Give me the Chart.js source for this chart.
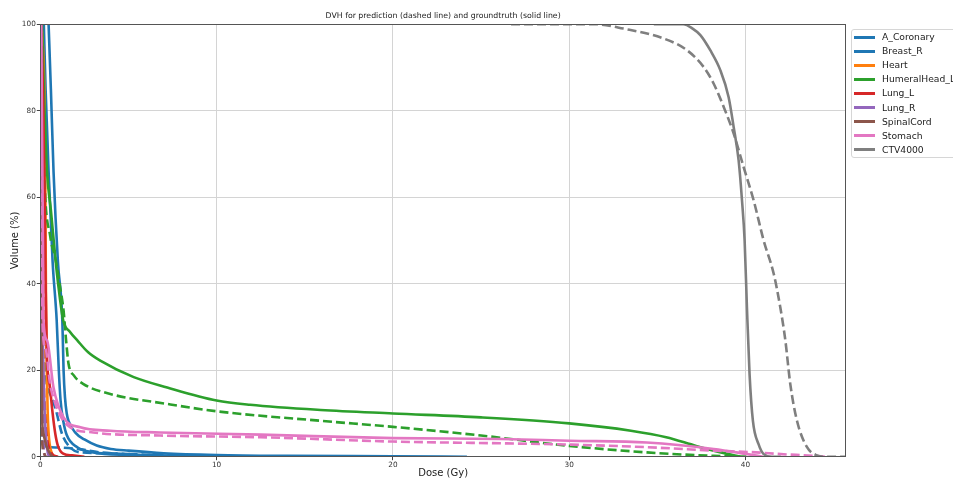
<!DOCTYPE html>
<html>
<head>
<meta charset="utf-8">
<script src="https://cdn.jsdelivr.net/npm/chart.js@4/dist/chart.umd.min.js"></script>
<style>
  html, body { margin: 0; padding: 0; background: #fff; overflow: hidden; }
  #wrap { position: relative; width: 953px; height: 480px; overflow: hidden; }
  #legend { position: absolute; left: 851px; top: 29px; width: 140px; height: 127px;
            border: 1px solid #d6d6d6; border-radius: 3px; background: #fff;
            font-family: "DejaVu Sans", sans-serif; font-size: 9.2px; color: #222; }
  .item { position: absolute; left: 0; height: 14px; line-height: 14px; white-space: nowrap; }
  .swatch { position: absolute; left: 2px; top: 5.5px; width: 21px; height: 0; border-top: 3px solid; }
  .lbl { position: absolute; left: 30px; top: 0; }
</style>
</head>
<body>
<div id="wrap">
  <canvas id="c" width="953" height="480"></canvas>
  <div id="legend"></div>
</div>
<script>
// ---- Data (dose in Gy, volume in %) ----
const structures = ['A_Coronary', 'Breast_R', 'Heart', 'HumeralHead_L', 'Lung_L', 'Lung_R', 'SpinalCord', 'Stomach', 'CTV4000'];
const colors = ['#1f77b4', '#1f77b4', '#ff7f0e', '#2ca02c', '#d62728', '#9467bd', '#8c564b', '#e377c2', '#7f7f7f'];

const xTicks = [0, 10, 20, 30, 40];
const yTicks = [0, 20, 40, 60, 80, 100];

const aCoronaryGtDose   = [0.2, 0.3, 0.47, 0.7, 0.93, 1.05, 1.15, 1.3, 1.5, 2.1, 3.0, 5.0, 8.0, 10.0];
const aCoronaryGtVol    = [100, 85, 66, 45, 31.5, 20, 13, 8.3, 5, 2.2, 1.0, 0.4, 0.1, 0];
const aCoronaryPredDose = [0.02, 0.04, 0.06, 0.08, 0.55, 2.1, 3.4, 5.0, 7.2, 10.0, 12.0];
const aCoronaryPredVol  = [100, 50, 10, 3.4, 2.2, 1.8, 1.0, 0.6, 0.4, 0.2, 0];

const breastRGtDose   = [0.47, 0.6, 0.75, 1.0, 1.25, 1.32, 1.4, 1.5, 1.6, 2.0, 2.5, 3.2, 4.0, 5.0, 7.0, 10.0, 14.0, 20.0, 24.2];
const breastRGtVol    = [100, 85, 66, 45, 31.5, 20, 13.7, 10, 8.3, 5.5, 4.0, 2.6, 1.8, 1.4, 0.8, 0.4, 0.2, 0.1, 0];
const breastRPredDose = [0.08, 0.12, 0.18, 0.22, 0.27, 0.3, 0.5, 0.85, 1.23, 1.68, 2.27, 3.97, 5.8, 8.0, 11.0];
const breastRPredVol  = [100, 80, 60, 45, 31.5, 20.6, 15, 11.3, 5.3, 2.2, 1.0, 0.8, 0.4, 0.2, 0];

const heartGtDose   = [0.05, 0.15, 0.25, 0.28, 0.33, 0.37, 0.42, 0.5, 0.6, 0.75];
const heartGtVol    = [100, 95, 80, 66, 31.5, 20, 10, 4, 1.5, 0];
const heartPredDose = [0.03, 0.1, 0.15, 0.18, 0.2, 0.3, 0.35, 0.45, 0.55];
const heartPredVol  = [100, 80, 60, 40, 20, 10, 5, 1, 0];

const humeralGtDose   = [0.1, 0.2, 0.38, 0.6, 0.9, 1.1, 1.3, 1.7, 2.1, 2.7, 3.4, 5.3, 7.2, 10, 11.9, 15.9, 20, 25, 30, 33.5, 35.5, 37.2, 38.6, 39.7];
const humeralGtVol    = [100, 85, 66, 57, 44, 37, 31.5, 28.8, 26.9, 24.2, 22.2, 18.4, 16, 13, 12, 10.8, 10, 9.1, 7.7, 6, 4.5, 2.5, 1, 0];
const humeralPredDose = [0.05, 0.15, 0.22, 0.57, 0.85, 1.13, 1.32, 1.45, 1.6, 1.9, 2.45, 3.97, 7.2, 10, 15.9, 20, 25, 30, 34.4, 38.2, 40.5];
const humeralPredVol  = [100, 80, 66, 50.8, 46, 39, 33.8, 27.5, 21.5, 18.8, 16.8, 14.5, 12.2, 10.5, 8.3, 6.9, 4.9, 2.5, 1.0, 0.2, 0];

const lungLGtDose   = [0.05, 0.15, 0.25, 0.3, 0.37, 0.55, 0.7, 0.85, 1.0, 1.3, 1.8, 2.5];
const lungLGtVol    = [100, 85, 60, 40, 24, 16, 10, 5.3, 2.5, 0.7, 0.3, 0];
const lungLPredDose = [0.02, 0.05, 0.08, 0.1, 0.17, 0.25, 0.35, 0.5, 0.7, 1.0];
const lungLPredVol  = [100, 70, 50, 31.5, 17, 10, 5, 2, 0.5, 0];

const lungRGtDose   = [0.03, 0.08, 0.12, 0.18, 0.25, 0.33, 0.42, 0.5];
const lungRGtVol    = [100, 60, 35, 20, 10, 4, 1, 0];
const lungRPredDose = [0.02, 0.05, 0.09, 0.14, 0.2, 0.28];
const lungRPredVol  = [100, 50, 20, 8, 2, 0];

const spinalGtDose   = [0.02, 0.05, 0.08, 0.1, 0.15, 0.35, 0.55, 0.7];
const spinalGtVol    = [100, 70, 30, 10, 6, 2.5, 0.7, 0];
const spinalPredDose = [0.01, 0.03, 0.05, 0.07, 0.1, 0.2, 0.3];
const spinalPredVol  = [100, 60, 25, 10, 4, 1, 0];

const stomachGtDose   = [0.05, 0.1, 0.15, 0.18, 0.38, 0.75, 1.32, 2.27, 3.97, 6.8, 12.5, 20, 26.1, 30, 34.4, 38.2, 40.1, 41.0];
const stomachGtVol    = [100, 75, 50, 31.5, 26.9, 16, 9.1, 6.8, 6.0, 5.6, 5.1, 4.3, 4.1, 3.7, 3.3, 1.8, 0.6, 0];
const stomachPredDose = [0.03, 0.07, 0.1, 0.12, 0.3, 0.55, 0.85, 1.2, 1.7, 3.0, 6.8, 12.5, 20, 26.1, 30, 34.4, 38.2, 40.6, 42, 43.9, 44.5];
const stomachPredVol  = [100, 70, 50, 31.5, 25, 17, 12.3, 9, 6.8, 5.6, 4.9, 4.5, 3.5, 3.1, 2.8, 2.2, 1.4, 1.0, 0.6, 0.2, 0];

const ctvGtDose   = [34.8, 36.47, 37.0, 37.44, 38.0, 38.57, 39.04, 39.33, 39.61, 39.8, 39.95, 40.08, 40.23, 40.42, 40.74, 41.03, 41.5, 42.0];
const ctvGtVol    = [100, 100, 99.0, 97.5, 94, 89.4, 83.2, 76.2, 68.5, 59.3, 50, 34.6, 19.1, 8.3, 2.9, 0.6, 0, 0];
const ctvPredDose = [26.7, 31.5, 33.07, 35.36, 36.68, 37.63, 38.19, 38.76, 39.33, 39.89, 40.46, 41.03, 41.6, 41.97, 42.26, 42.54, 42.92, 43.49, 44.05, 44.5, 45.7];
const ctvPredVol  = [100, 100, 99, 96.7, 94, 90.1, 86.3, 80.9, 74.7, 67, 59.3, 50, 42.3, 34.6, 26.9, 16.8, 8.3, 2.2, 0.3, 0, 0];

const groundTruth = [
  [aCoronaryGtDose, aCoronaryGtVol], [breastRGtDose, breastRGtVol], [heartGtDose, heartGtVol],
  [humeralGtDose, humeralGtVol], [lungLGtDose, lungLGtVol], [lungRGtDose, lungRGtVol],
  [spinalGtDose, spinalGtVol], [stomachGtDose, stomachGtVol], [ctvGtDose, ctvGtVol]
];
const prediction = [
  [aCoronaryPredDose, aCoronaryPredVol], [breastRPredDose, breastRPredVol], [heartPredDose, heartPredVol],
  [humeralPredDose, humeralPredVol], [lungLPredDose, lungLPredVol], [lungRPredDose, lungRPredVol],
  [spinalPredDose, spinalPredVol], [stomachPredDose, stomachPredVol], [ctvPredDose, ctvPredVol]
];

// ---- Build datasets ----
const toPoints = (d, v) => d.map((x, i) => ({ x: x, y: v[i] }));
const datasets = [];
structures.forEach((name, i) => {
  datasets.push({
    label: name, data: toPoints(groundTruth[i][0], groundTruth[i][1]),
    borderColor: colors[i], borderWidth: 2.6, borderDash: [], pointRadius: 0,
    cubicInterpolationMode: 'monotone', clip: 0, fill: false
  });
  datasets.push({
    label: name + ' (pred)', data: toPoints(prediction[i][0], prediction[i][1]),
    borderColor: colors[i], borderWidth: 2.6, borderDash: [9, 4], pointRadius: 0,
    cubicInterpolationMode: 'monotone', clip: 0, fill: false
  });
});
const N = datasets.length;
datasets.forEach((ds, i) => { ds.order = N - i; });

// ---- Legend (HTML) ----
const legendEl = document.getElementById('legend');
structures.forEach((name, i) => {
  const it = document.createElement('div');
  it.className = 'item';
  it.style.top = (0 + i * 14.1) + 'px';
  it.innerHTML = '<span class="swatch" style="border-top-color:' + colors[i] + '"></span><span class="lbl"></span>';
  it.querySelector('.lbl').textContent = name;
  legendEl.appendChild(it);
});

// ---- Frame plugin ----
const frame = {
  id: 'frame',
  afterDatasetsDraw(chart) {
    const a = chart.chartArea, ctx = chart.ctx;
    ctx.save();
    ctx.strokeStyle = '#555';
    ctx.lineWidth = 1;
    ctx.strokeRect(Math.round(a.left) + 0.5, Math.round(a.top) + 0.5, Math.round(a.right - a.left) - 1, Math.round(a.bottom - a.top));
    ctx.restore();
  }
};

const FONT = '"DejaVu Sans", sans-serif';
new Chart(document.getElementById('c'), {
  type: 'line',
  data: { datasets: datasets },
  options: {
    responsive: false,
    animation: false,
    events: [],
    layout: { padding: { left: 0, right: 107, top: 0, bottom: 0 } },
    plugins: {
      legend: { display: false },
      tooltip: { enabled: false },
      title: {
        display: true, fullSize: false,
        text: 'DVH for prediction (dashed line) and groundtruth (solid line)',
        font: { family: FONT, size: 7.8, weight: 'normal', lineHeight: 1.2 },
        color: '#222', padding: { top: 10.8, bottom: 4.1 }
      }
    },
    scales: {
      x: {
        type: 'linear', min: 0, max: 45.7,
        afterFit: s => { s.height = 23.3; },
        afterBuildTicks: s => { s.ticks = xTicks.map(v => ({ value: v })); },
        ticks: { includeBounds: false, autoSkip: false, maxRotation: 0, padding: 1,
                 font: { family: FONT, size: 7.3 }, color: '#333' },
        grid: { color: '#d4d4d4', lineWidth: 1, tickLength: 3.5, tickColor: '#444', drawTicks: true },
        border: { display: false },
        title: { display: true, text: 'Dose (Gy)', font: { family: FONT, size: 10 }, color: '#222', padding: { top: 0, bottom: 1 } }
      },
      y: {
        type: 'linear', min: 0, max: 100,
        afterFit: s => { s.width = 40.3; },
        afterBuildTicks: s => { s.ticks = yTicks.map(v => ({ value: v })); },
        ticks: { includeBounds: false, autoSkip: false, padding: 1,
                 font: { family: FONT, size: 7.3 }, color: '#333' },
        grid: { color: '#d4d4d4', lineWidth: 1, tickLength: 3.5, tickColor: '#444', drawTicks: true },
        border: { display: false },
        title: { display: true, text: 'Volume (%)', font: { family: FONT, size: 10 }, color: '#222', padding: { top: 9, bottom: 0 } }
      }
    }
  },
  plugins: [frame]
});
</script>
</body>
</html>
